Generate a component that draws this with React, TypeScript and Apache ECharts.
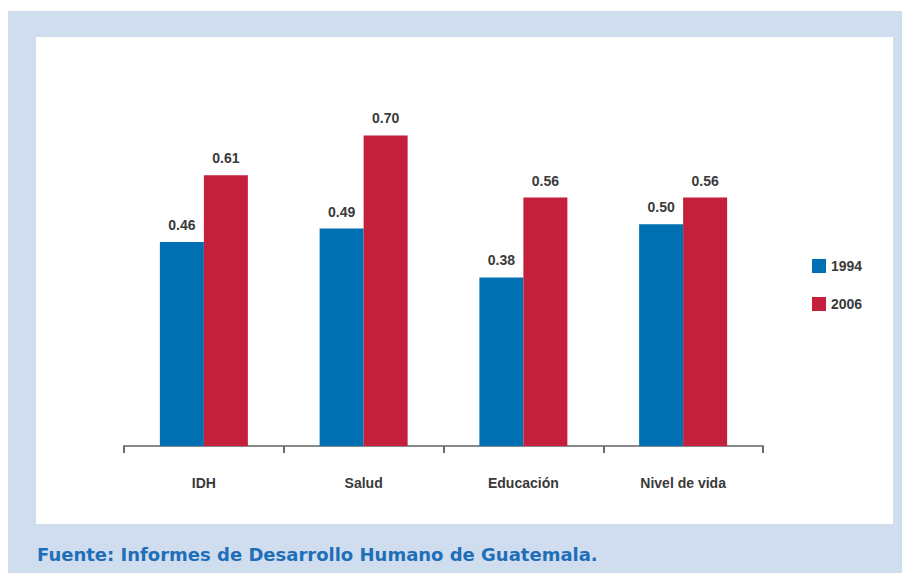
import React, { useEffect, useRef } from "react";
import * as echarts from "echarts";

const categories = ["IDH", "Salud", "Educación", "Nivel de vida"];
const series1994 = [0.46, 0.49, 0.38, 0.5];
const series2006 = [0.61, 0.7, 0.56, 0.56];
const seriesNames = ["1994", "2006"];
const footerText = "Fuente: Informes de Desarrollo Humano de Guatemala.";

const BLUE = "#0070b2";
const RED = "#c41f3b";
const NARROW = "'Liberation Sans Narrow', 'Arial Narrow', 'Liberation Sans', Arial, sans-serif";

export default function App() {
  const ref = useRef<HTMLDivElement>(null);
  useEffect(() => {
    if (!ref.current) return;
    const chart = echarts.init(ref.current, null, { renderer: "svg" });
    const labelStyle = {
      show: true,
      position: "top" as const,
      distance: 10,
      formatter: (p: any) => p.value.toFixed(2),
      fontFamily: NARROW,
      fontWeight: "bold" as const,
      fontSize: 14,
      color: "#3a3a3a",
    };
    chart.setOption({
      animation: false,
      backgroundColor: "#ffffff",
      graphic: [
        { type: "rect", z: -10, shape: { x: 8, y: 11, width: 894, height: 562 }, style: { fill: "#d0ddee" }, silent: true },
        { type: "rect", z: -9, shape: { x: 36, y: 37, width: 857, height: 487 }, style: { fill: "#ffffff" }, silent: true },
        {
          type: "text",
          left: 37,
          top: 545,
          style: {
            text: footerText,
            fill: "#1e6fb8",
            font: "bold 18px 'DejaVu Sans', Verdana, sans-serif",
          },
        },
      ],
      legend: {
        orient: "vertical",
        left: 807,
        top: 254,
        itemWidth: 14,
        itemHeight: 14,
        itemGap: 24,
        icon: "rect",
        data: seriesNames,
        textStyle: { fontFamily: NARROW, fontWeight: "bold", fontSize: 14, color: "#3a3a3a" },
      },
      grid: { left: 124, right: 139, top: 91, bottom: 127, containLabel: false },
      xAxis: {
        type: "category",
        data: categories,
        boundaryGap: true,
        axisLine: { show: true, lineStyle: { color: "#8a8a8a", width: 2 } },
        axisTick: { show: true, length: 7, alignWithLabel: false, lineStyle: { color: "#6a6a6a", width: 2 } },
        axisLabel: { margin: 30, fontFamily: NARROW, fontWeight: "bold", fontSize: 14, color: "#3a3a3a" },
      },
      yAxis: {
        type: "value",
        min: 0,
        max: 0.8,
        show: false,
        splitLine: { show: false },
      },
      series: [
        { name: seriesNames[0], type: "bar", data: series1994, barWidth: 44, barGap: "0%", itemStyle: { color: BLUE }, label: labelStyle },
        { name: seriesNames[1], type: "bar", data: series2006, barWidth: 44, barGap: "0%", itemStyle: { color: RED }, label: labelStyle },
      ],
    });
    return () => chart.dispose();
  }, []);
  return <div ref={ref} style={{ position: "absolute", left: 0, top: 0, width: 902, height: 573 }} />;
}
